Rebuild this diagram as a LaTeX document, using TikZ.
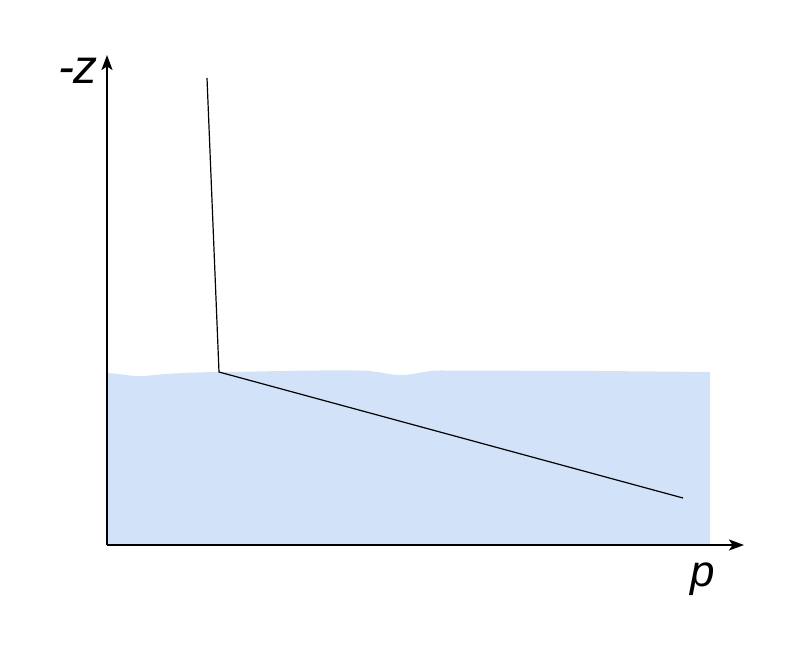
\documentclass[tikz,border=0pt]{standalone}
\usepackage{fontspec}
\setmainfont{Liberation Sans}
\usetikzlibrary{arrows.meta}
\definecolor{water}{RGB}{210,226,248}
\tikzset{
  axis/.style={line width=2pt,-{Stealth[length=15pt,width=11pt,inset=3.5pt]}},
  curve/.style={line width=1.2pt,black},
  lbl/.style={font=\fontsize{44}{44}\selectfont\itshape,inner sep=0pt},
  zlbl/.style={font=\fontsize{48}{48}\selectfont\itshape,inner sep=0pt}
}
\begin{document}
\begin{tikzpicture}[x=1pt,y=-1pt]
\useasboundingbox (0,0) rectangle (800,654);
\fill[water] (107,545) -- (107,373)
  .. controls (125,374) and (132,377) .. (145,376)
  .. controls (170,373) and (200,372) .. (230,372)
  .. controls (280,371) and (330,370) .. (360,370.5)
  .. controls (380,371) and (388,375) .. (400,375)
  .. controls (415,375) and (425,370) .. (445,370.5)
  -- (600,371) -- (710,372) -- (710,545) -- cycle;
\coordinate (o) at (107,545);
\coordinate (xend) at (744,545);
\coordinate (yend) at (107,55);
\draw[axis] (o) -- (xend);
\draw[axis] (o) -- (yend);
\coordinate (a) at (207,78);
\coordinate (b) at (219,372);
\coordinate (c) at (683,498);
\draw[curve] (a) -- (b) -- (c);
\node[zlbl,anchor=base] (zl) at (78,83) {-z};
\node[lbl,anchor=base] (pl) at (703,586) {p};
\end{tikzpicture}
\end{document}
